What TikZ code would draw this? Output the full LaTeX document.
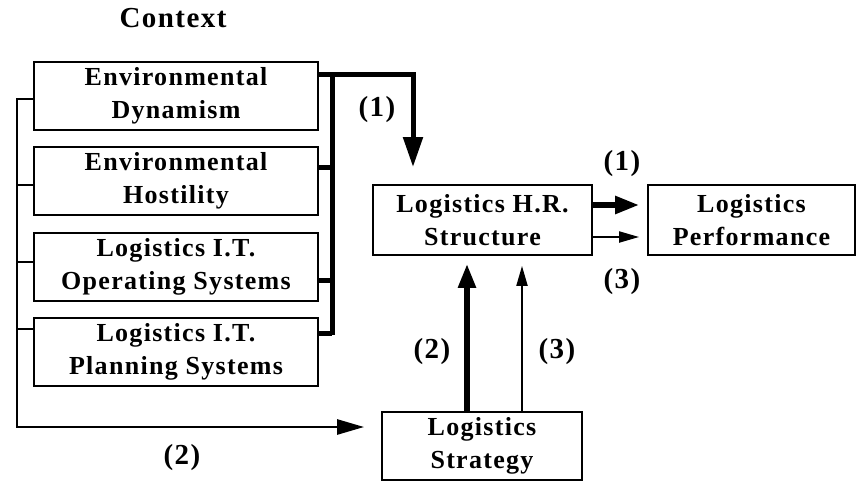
\documentclass[tikz,border=0pt]{standalone}
\usepackage{fontspec}
\setmainfont{Liberation Serif}
\newfontfamily\spacedserif[LetterSpace=5]{Liberation Serif}
\usetikzlibrary{arrows.meta, calc, positioning}

\begin{document}
\begin{tikzpicture}[
  x=1pt, y=-1pt,
  box/.style={draw, line width=1.8pt, align=center, inner sep=0pt,
              font=\spacedserif\bfseries\fontsize{26}{33}\selectfont},
  ctxbox/.style={box, minimum width=284pt, minimum height=68pt},
  lbl/.style={font=\spacedserif\bfseries\fontsize{29}{32}\selectfont,
              inner sep=0pt},
  bus/.style={line width=2.6pt},
  thickbus/.style={line width=5pt},
  thinarr/.style={-{Triangle[length=20pt, width=11pt]}, line width=2pt},
  boldarr/.style={-{Triangle[length=24pt, width=17pt]}, line width=5.5pt},
]
  \useasboundingbox (0,0) rectangle (857,482);

  %% ── Context factors ──
  \node[font=\spacedserif\bfseries\fontsize{29}{32}\selectfont,
        inner sep=0pt] (context) at (173,18) {Context};
  \node[ctxbox] (dyn)    at (176,96)  {Environmental\\Dynamism};
  \node[ctxbox] (host)   at (176,181) {Environmental\\Hostility};
  \node[ctxbox] (itops)  at (176,267) {Logistics I.T.\\Operating Systems};
  \node[ctxbox] (itplan) at (176,352) {Logistics I.T.\\Planning Systems};

  %% ── Structure, performance, strategy ──
  \node[box, minimum width=219pt, minimum height=70pt] (hrs)
    at (482.5,220) {Logistics H.R.\\Structure};
  \node[box, minimum width=207pt, minimum height=70pt] (perf)
    at (751.5,220) {Logistics\\Performance};
  \node[box, minimum width=200pt, minimum height=68pt] (strat)
    at (482,446) {Logistics\\Strategy};

  %% ═══════ LEFT BUS (2) ═══════
  \coordinate (lb) at (17,427);
  \coordinate (t2) at ([yshift=-4pt]host.west);
  \coordinate (t3) at ([yshift=5pt]itops.west);
  \coordinate (t4) at ([yshift=23pt]itplan.west);
  \draw[bus, -{Triangle[length=27pt, width=15pt]}, shorten >=17pt]
    ([yshift=-3pt]dyn.west) -| (lb) -- (strat.west |- lb);
  \foreach \t in {t2,t3,t4}
    \draw[bus] (\t) -- (\t -| lb);

  %% ═══════ RIGHT BUS (1) ═══════
  \coordinate (r1) at ([yshift=22pt]dyn.east);
  \coordinate (r2) at ([yshift=14pt]host.east);
  \coordinate (r3) at ([yshift=-13pt]itops.east);
  \coordinate (r4) at ([yshift=19pt]itplan.east);
  \coordinate (rb) at (332,335);
  \draw[thickbus] (rb) -- (rb |- r1);
  \foreach \t in {r2,r3,r4}
    \draw[thickbus] (\t) -- (\t -| rb);
  \draw[thickbus, -{Triangle[length=30pt, width=19pt]}, shorten >=17pt]
    (r1) -| ([xshift=-69.5pt]hrs.north);

  %% ═══════ ARROWS ═══════
  \coordinate (h1) at ([yshift=15pt]hrs.east);
  \coordinate (h3) at ([yshift=-17pt]hrs.east);
  \draw[boldarr, shorten >=8pt] (h1) -- (h1 -| perf.west);
  \draw[thinarr, shorten >=8pt] (h3) -- (h3 -| perf.west);

  \coordinate (s2) at ([xshift=-15pt]strat.north);
  \coordinate (s3) at ([xshift=40pt]strat.north);
  \draw[boldarr, shorten >=8pt] (s2) -- (s2 |- hrs.south);
  \draw[thinarr, shorten >=10pt] (s3) -- (s3 |- hrs.south);

  %% ═══════ LABELS ═══════
  \node[lbl] (l1a) at (377,110) {(1)};
  \node[lbl] (l1b) at (622,164) {(1)};
  \node[lbl] (l3b) at (622,282) {(3)};
  \node[lbl] (l2a) at (432,352) {(2)};
  \node[lbl] (l3a) at (557,352) {(3)};
  \node[lbl] (l2b) at (182,458) {(2)};
\end{tikzpicture}
\end{document}
